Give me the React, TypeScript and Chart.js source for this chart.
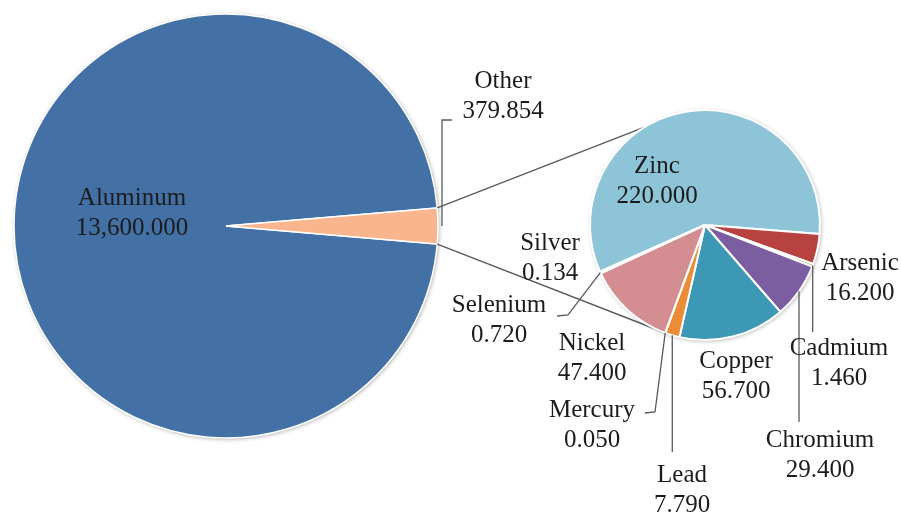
import React, { useEffect, useRef } from "react";
import { Chart, registerables } from "chart.js";
Chart.register(...registerables);

// ---------- data ----------
const mainCategories = ["Aluminum", "Other"];
const mainValues = [13600, 379.854];
const subCategories = ["Zinc", "Arsenic", "Cadmium", "Chromium", "Copper", "Lead", "Mercury", "Nickel", "Selenium", "Silver"];
const subValues = [220, 16.2, 1.46, 29.4, 56.7, 7.79, 0.05, 47.4, 0.72, 0.134];

// ---------- style / layout ----------
const mainColors = ["#4371A6", "#F9B68E"];
const subColors = ["#8EC4D8", "#B8423F", "#9BBB59", "#7B5EA2", "#3C98B4", "#EC8C35", "#A7C0DE", "#D48D90", "#C3D69B", "#B3A2C7"];

const W = 901, H = 515;
const BIG = { cx: 226, cy: 226, r: 212 };
const SMALL = { cx: 705, cy: 225, r: 115 };
const ZINC_END_DEG = 4.5;
const CONNECT_TOP_DEG = -121.7;
const CONNECT_BOTTOM_DEG = 109;
const FONT = "25px 'Liberation Serif', 'Times New Roman', serif";
const LINE_GAP = 30;
const TEXT_COLOR = "#1c1c1c";
const LEADER_COLOR = "#5a5a5a";

// label anchor: [centre-x offset, first-baseline offset] from pie centre
const mainLabelPos = [[-94, -21], [277, -138]];
const subLabelPos = [[-48, -52], [155, 45], [134, 130], [115, 222], [31, 143], [-23, 257], [-113, 192], [-113, 125], [-206, 87], [-155, 25]];
// leader polylines (offsets from pie centre; null x = keep start x)
const mainLeaders: any[] = [null, { startGap: 4, pts: [[null, -106], [226, -106]] }];
const subLeaders: any[] = [null, null, { startGap: 0, pts: [[null, 107]] }, { startGap: 0, pts: [[null, 197]] }, null,
  { startGap: 0, pts: [[null, 227]] }, { startGap: 0, pts: [[-50, 187], [-60, 188]] }, null,
  { startGap: 0, pts: [[-137, 90], [-148, 91]] }, null];

const fmt = (v: number) => v.toLocaleString("en-US", { minimumFractionDigits: 3, maximumFractionDigits: 3 });

function labelPlugin(cats: string[], vals: number[], pos: number[][], leaders: any[]) {
  return {
    id: "pieLabels",
    afterDatasetsDraw(chart: any) {
      const ctx = chart.ctx;
      const arcs = chart.getDatasetMeta(0).data;
      ctx.save();
      // leaders
      ctx.strokeStyle = LEADER_COLOR;
      ctx.lineWidth = 1.3;
      arcs.forEach((arc: any, i: number) => {
        const ld = leaders[i];
        if (!ld) return;
        const mid = (arc.startAngle + arc.endAngle) / 2;
        const rr = arc.outerRadius + ld.startGap;
        const sx = arc.x + Math.cos(mid) * rr;
        const sy = arc.y + Math.sin(mid) * rr;
        ctx.beginPath();
        ctx.moveTo(sx, sy);
        ld.pts.forEach((p: any) => {
          const px = p[0] === null ? sx : arc.x + p[0];
          ctx.lineTo(px, arc.y + p[1]);
        });
        ctx.stroke();
      });
      // text
      ctx.font = FONT;
      ctx.fillStyle = TEXT_COLOR;
      ctx.textAlign = "center";
      ctx.textBaseline = "alphabetic";
      arcs.forEach((arc: any, i: number) => {
        const [dx, dy] = pos[i];
        ctx.fillText(cats[i], arc.x + dx, arc.y + dy);
        ctx.fillText(fmt(vals[i]), arc.x + dx, arc.y + dy + LINE_GAP);
      });
      ctx.restore();
    },
  };
}

function shadowPlugin() {
  return {
    id: "pieShadow",
    beforeDatasetsDraw(chart: any) {
      const arc = chart.getDatasetMeta(0).data[0];
      if (!arc) return;
      const ctx = chart.ctx;
      ctx.save();
      ctx.shadowColor = "rgba(0,0,0,0.35)";
      ctx.shadowBlur = 4;
      ctx.shadowOffsetX = 1;
      ctx.shadowOffsetY = 1;
      ctx.fillStyle = "#ffffff";
      ctx.beginPath();
      ctx.arc(arc.x, arc.y, arc.outerRadius, 0, Math.PI * 2);
      ctx.fill();
      ctx.restore();
    },
  };
}

export default function App() {
  const bigRef = useRef<HTMLCanvasElement>(null);
  const smallRef = useRef<HTMLCanvasElement>(null);

  useEffect(() => {
    const total = mainValues.reduce((a, b) => a + b, 0);
    const otherFrac = mainValues[1] / total;
    const bigRotation = 180 * otherFrac - 270;

    const bigChart = new Chart(bigRef.current!, {
      type: "pie",
      data: {
        labels: mainCategories,
        datasets: [{
          data: mainValues,
          backgroundColor: mainColors,
          borderColor: "#ffffff",
          borderWidth: 1.5,
          radius: BIG.r,
          rotation: bigRotation,
          hoverOffset: 0,
        } as any],
      },
      options: {
        animation: false,
        responsive: false,
        maintainAspectRatio: false,
        events: [],
        layout: { padding: { left: 0, top: 0, right: W - 2 * BIG.cx, bottom: H - 2 * BIG.cy } },
        plugins: { legend: { display: false }, tooltip: { enabled: false } },
      } as any,
      plugins: [shadowPlugin(), labelPlugin(mainCategories, mainValues, mainLabelPos, mainLeaders)],
    });

    const subTotal = subValues.reduce((a, b) => a + b, 0);
    const zincSpan = (360 * subValues[0]) / subTotal;
    const smallRotation = 90 + ZINC_END_DEG - zincSpan;

    const connectorPlugin = {
      id: "connectors",
      beforeDatasetsDraw(chart: any) {
        const other = bigChart.getDatasetMeta(0).data[1] as any;
        const sub = chart.getDatasetMeta(0).data[0] as any;
        if (!other || !sub) return;
        const ctx = chart.ctx;
        const toRad = (d: number) => (d * Math.PI) / 180;
        ctx.save();
        ctx.strokeStyle = LEADER_COLOR;
        ctx.lineWidth = 1.4;
        const ends = [
          [other.startAngle, toRad(CONNECT_TOP_DEG)],
          [other.endAngle, toRad(CONNECT_BOTTOM_DEG)],
        ];
        ends.forEach(([a0, a1]) => {
          ctx.beginPath();
          ctx.moveTo(other.x + Math.cos(a0) * other.outerRadius, other.y + Math.sin(a0) * other.outerRadius);
          ctx.lineTo(sub.x + Math.cos(a1) * sub.outerRadius, sub.y + Math.sin(a1) * sub.outerRadius);
          ctx.stroke();
        });
        ctx.restore();
      },
    };

    const smallChart = new Chart(smallRef.current!, {
      type: "pie",
      data: {
        labels: subCategories,
        datasets: [{
          data: subValues,
          backgroundColor: subColors,
          borderColor: "#ffffff",
          borderWidth: 2,
          radius: SMALL.r,
          rotation: smallRotation,
          hoverOffset: 0,
        } as any],
      },
      options: {
        animation: false,
        responsive: false,
        maintainAspectRatio: false,
        events: [],
        layout: { padding: { left: 2 * SMALL.cx - W, top: 0, right: 0, bottom: H - 2 * SMALL.cy } },
        plugins: { legend: { display: false }, tooltip: { enabled: false } },
      } as any,
      plugins: [connectorPlugin, shadowPlugin(), labelPlugin(subCategories, subValues, subLabelPos, subLeaders)],
    });

    return () => {
      smallChart.destroy();
      bigChart.destroy();
    };
  }, []);

  return (
    <div style={{ position: "absolute", left: 0, top: 0, width: W, height: H, background: "#ffffff", overflow: "hidden" }}>
      <canvas ref={bigRef} width={W} height={H} style={{ position: "absolute", left: 0, top: 0 }} />
      <canvas ref={smallRef} width={W} height={H} style={{ position: "absolute", left: 0, top: 0 }} />
    </div>
  );
}
